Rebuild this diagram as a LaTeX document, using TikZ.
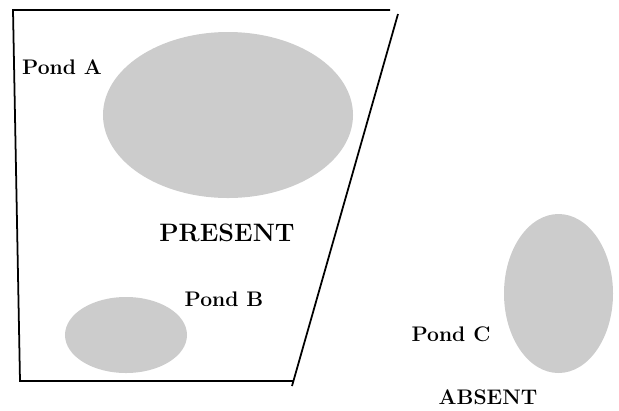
\documentclass[tikz,border=0pt]{standalone}
\usepackage{tikz}
\usetikzlibrary{shapes.geometric, positioning}
\usepackage{xcolor}
\definecolor{pond-gray}{RGB}{204,204,204}

\begin{document}
\begin{tikzpicture}[
    x=0.03cm, y=-0.03cm,
    %% Pond (grey ellipse, no outline)
    pond/.style  = {ellipse, fill=pond-gray, draw=none, inner sep=0pt},
    %% Pond label
    plabel/.style = {font=\fontsize{18}{21}\selectfont\bfseries, inner sep=0pt},
    %% Zone label
    zlabel/.style = {font=\fontsize{21.5}{25}\selectfont\bfseries, inner sep=0pt},
    edge/.style  = {line width=1.5pt, color=black},
]
\useasboundingbox (0,0) rectangle (619,410);

%% ---- ponds ----
\node[pond, minimum width=7.5cm,  minimum height=4.98cm] (pondA) at (228,115) {};
\node[pond, minimum width=3.66cm, minimum height=2.28cm] (pondB) at (126,335) {};
\node[pond, minimum width=3.27cm, minimum height=4.77cm] (pondC) at (558.5,293.5) {};

%% ---- present zone outline ----
\coordinate (tl) at (13,10);
\coordinate (tr) at (390,10);
\coordinate (bl) at (20,381);
\coordinate (br) at (293,381);
\coordinate (rtop) at (398,14);
\coordinate (rbot) at (292,386);

\draw[edge] (tr) -- (tl) -- (bl) -- (br);
\draw[edge] (rtop) -- (rbot);

%% ---- labels ----
\node[plabel] (labA) at (62,67)  {Pond A};
\node[plabel] (labB) at (224,299) {Pond B};
\node[plabel] (labC) at (451,334) {Pond C};
\node[zlabel] (present) at (227,233) {PRESENT};
\node[plabel] (absent)  at (488,397) {ABSENT};

\end{tikzpicture}
\end{document}
